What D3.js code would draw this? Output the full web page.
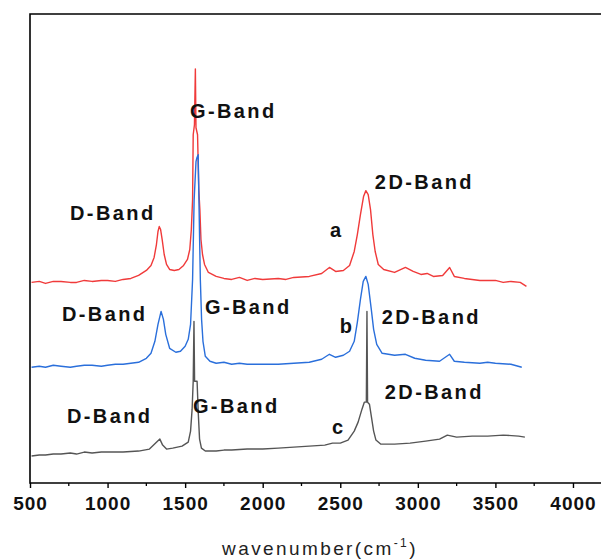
<!DOCTYPE html>
<html>
<head>
<meta charset="utf-8">
<script src="https://cdn.jsdelivr.net/npm/d3@7"></script>
<style>
  body { margin: 0; background: #fff; }
  svg { display: block; font-family: Arial, "Liberation Sans", sans-serif; }
</style>
</head>
<body>
<div id="chart"></div>
<script>
// Raman spectra, stacked with offset (intensity a.u., as plotted)
var xTicks = [500, 1000, 1500, 2000, 2500, 3000, 3500, 4000];

var waveA = [510,560,600,650,700,760,800,850,900,960,1000,1050,1100,1150,1200,1250,1280,1300,1315,1325,1333,1342,1352,1365,1380,1400,1430,1460,1490,1515,1530,1540,1548,1552,1560,1566,1570,1580,1588,1595,1602,1612,1625,1650,1700,1750,1800,1850,1900,1950,2000,2100,2150,2200,2300,2380,2430,2470,2520,2560,2590,2610,2630,2650,2665,2680,2695,2710,2725,2745,2780,2850,2920,2970,3020,3060,3100,3160,3205,3235,3300,3350,3400,3500,3550,3600,3660,3700];
var intA  = [201,202,200,202,202,201,201,203,202,203,203,202,204,205,208,213,218,226,239,252,257,254,244,229,219,214,213,214,218,224,234,254,284,349,359,415,356,349,294,274,244,229,219,211,207,205,204,206,203,205,204,205,204,206,207,210,216,212,213,218,232,249,269,287,293,289,274,249,232,219,214,211,216,212,209,210,207,208,216,207,205,204,203,203,201,202,201,197];

var waveB = [510,560,600,650,700,760,800,850,900,960,1000,1050,1100,1200,1250,1280,1305,1325,1345,1360,1375,1400,1440,1470,1500,1520,1535,1548,1558,1570,1576,1584,1590,1598,1606,1615,1630,1660,1700,1750,1800,1850,1900,2000,2100,2200,2300,2380,2430,2470,2520,2560,2590,2610,2630,2648,2665,2680,2700,2715,2735,2770,2850,2920,2980,3050,3140,3205,3235,3300,3400,3450,3500,3600,3670];
var intB  = [116,117,116,118,117,116,117,118,118,117,118,119,119,121,125,130,142,159,172,164,149,135,131,132,137,144,159,204,284,322,326,329,274,204,164,142,127,122,120,121,119,120,119,119,119,120,121,124,129,126,128,132,142,161,184,202,207,199,174,154,139,130,128,129,125,123,122,129,122,121,120,121,120,119,116];

var waveC = [510,560,600,650,700,760,800,850,900,960,1000,1100,1200,1270,1310,1337,1355,1380,1420,1480,1520,1535,1545,1552,1557,1561,1577,1585,1593,1605,1630,1700,1750,1800,1900,2000,2100,2200,2300,2400,2450,2500,2550,2590,2615,2640,2655,2668,2672,2676,2688,2700,2715,2730,2760,2850,2950,3050,3140,3190,3250,3350,3450,3550,3650,3690];
var intC  = [27,28,28,29,29,30,29,31,30,31,31,31,32,34,40,44,38,34,35,37,41,52,74,102,162,102,102,69,44,35,32,32,33,33,34,34,35,36,37,38,40,40,43,52,61,74,81,81,172,81,79,67,52,43,39,39,40,42,44,48,46,47,47,48,47,46];

var seriesNames = ["a", "b", "c"];
var seriesColors = ["#f03a3a", "#2a6fdb", "#555555"];

// band labels: [text, wavenumber, intensity]
var bandLabels = [
  ["D-Band", 758, 271], ["G-Band", 1531, 373], ["2D-Band", 2723, 302], ["a", 2433, 254],
  ["D-Band", 706, 169], ["G-Band", 1628, 176], ["2D-Band", 2768, 166], ["b", 2497, 157],
  ["D-Band", 738, 67],  ["G-Band", 1550, 77],  ["2D-Band", 2787, 91],  ["c", 2446, 56]
];

var width = 601, height = 560;
var margin = {left: 30, top: 14, bottom: 483};

var svg = d3.select("#chart").append("svg")
    .attr("width", width)
    .attr("height", height);

var x = d3.scaleLinear().domain([500, 4200]).range([margin.left, 604]);
var y = d3.scaleLinear().domain([0, 470]).range([margin.bottom, margin.top]);

// spectra
var series = [
  {name: seriesNames[0], w: waveA, v: intA},
  {name: seriesNames[1], w: waveB, v: intB},
  {name: seriesNames[2], w: waveC, v: intC}
];

var line = d3.line()
    .x(function (d) { return x(d[0]); })
    .y(function (d) { return y(d[1]); });

svg.append("g").selectAll("path")
    .data(series)
    .enter().append("path")
    .attr("fill", "none")
    .attr("stroke", function (d, i) { return seriesColors[i]; })
    .attr("stroke-width", 1.4)
    .attr("stroke-linejoin", "round")
    .attr("d", function (d) { return line(d.w.map(function (w, i) { return [w, d.v[i]]; })); });

// frame
svg.append("path")
    .attr("fill", "none")
    .attr("stroke", "#000")
    .attr("stroke-width", 1.6)
    .attr("d", "M" + x(4200) + "," + y(470) + "H" + margin.left + "V" + margin.bottom + "H" + x(4200));

// bottom axis
var minor = d3.range(750, 4200, 500);
svg.append("g").selectAll("line.minor")
    .data(minor).enter().append("line")
    .attr("x1", function (d) { return x(d); }).attr("x2", function (d) { return x(d); })
    .attr("y1", margin.bottom).attr("y2", margin.bottom + 3)
    .attr("stroke", "#000").attr("stroke-width", 1.3);

var xAxis = d3.axisBottom(x).tickValues(xTicks).tickSize(5).tickPadding(9).tickFormat(d3.format("d"));
var gx = svg.append("g")
    .attr("transform", "translate(0," + margin.bottom + ")")
    .call(xAxis);
gx.select(".domain").remove();
gx.selectAll(".tick line").attr("stroke-width", 1.4);
gx.selectAll(".tick text")
    .attr("font-family", "Arial, 'Liberation Sans', sans-serif")
    .attr("font-size", 19)
    .attr("font-weight", "bold")
    .attr("letter-spacing", 1)
    .attr("fill", "#111");

// axis title
var title = svg.append("text")
    .attr("x", 320)
    .attr("y", 555)
    .attr("text-anchor", "middle")
    .attr("font-size", 19)
    .attr("letter-spacing", 2.4)
    .attr("fill", "#222");
title.append("tspan").text("wavenumber(cm");
title.append("tspan").attr("font-size", 12).attr("dy", -8).text("-1");
title.append("tspan").attr("dy", 8).text(")");

// band labels
svg.append("g").selectAll("text")
    .data(bandLabels)
    .enter().append("text")
    .attr("x", function (d) { return x(d[1]); })
    .attr("y", function (d) { return y(d[2]); })
    .attr("dy", "0.35em")
    .attr("font-size", 20)
    .attr("font-weight", "bold")
    .attr("letter-spacing", 2.4)
    .attr("fill", "#111")
    .text(function (d) { return d[0]; });
</script>
</body>
</html>
